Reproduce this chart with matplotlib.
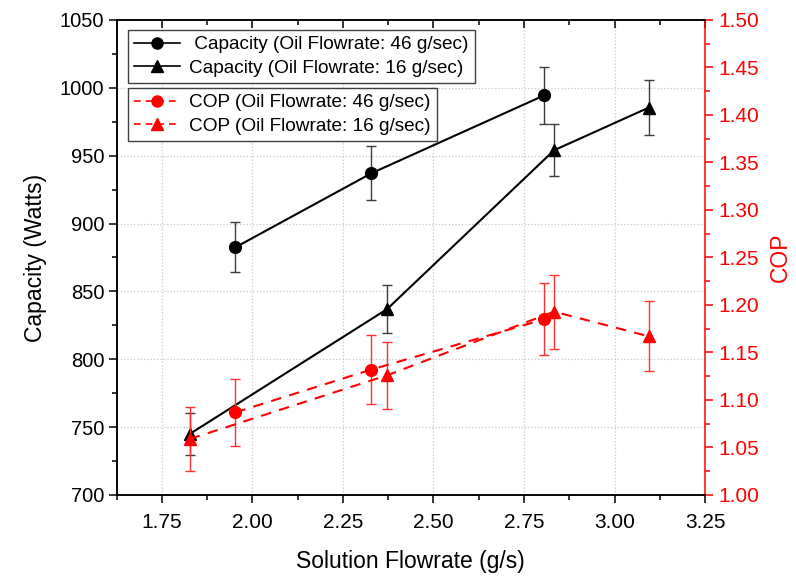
import numpy as np
import matplotlib
matplotlib.use("Agg")
import matplotlib.pyplot as plt
from matplotlib.ticker import MultipleLocator, FormatStrFormatter
from matplotlib.lines import Line2D

plt.rcParams["font.family"] = ["Liberation Sans", "DejaVu Sans"]

# Capacity data (left axis)
cap46_x   = [1.953, 2.328, 2.806]
cap46_y   = [882.5, 937.0, 994.5]
cap46_err = [18.5, 20.0, 21.0]

cap16_x   = [1.827, 2.372, 2.833, 3.095]
cap16_y   = [745.0, 837.0, 954.0, 985.5]
cap16_err = [15.5, 17.5, 19.0, 20.5]

# COP data (right axis)
cop46_x   = [1.953, 2.328, 2.806]
cop46_y   = [1.087, 1.132, 1.185]
cop46_err = [0.035, 0.0365, 0.038]

cop16_x   = [1.827, 2.372, 2.833, 3.095]
cop16_y   = [1.059, 1.126, 1.193, 1.167]
cop16_err = [0.034, 0.0355, 0.039, 0.037]

labels = [" Capacity (Oil Flowrate: 46 g/sec)",
          "Capacity (Oil Flowrate: 16 g/sec)",
          "COP (Oil Flowrate: 46 g/sec)",
          "COP (Oil Flowrate: 16 g/sec)"]

RED = "#ff0000"

fig, ax = plt.subplots(figsize=(7.96, 5.78), dpi=100)
fig.subplots_adjust(left=0.1466, right=0.8857, bottom=0.1436, top=0.9654)
ax2 = ax.twinx()

# grid (left major ticks / x major ticks)
ax.grid(True, color="#c8c8c8", linestyle=":", linewidth=0.9)
ax.set_axisbelow(True)

# capacity
ax.errorbar(cap46_x, cap46_y, yerr=cap46_err, fmt="none", ecolor="#3c3c3c",
            elinewidth=1.0, capsize=3.5, capthick=1.0)
ax.errorbar(cap16_x, cap16_y, yerr=cap16_err, fmt="none", ecolor="#3c3c3c",
            elinewidth=1.0, capsize=3.5, capthick=1.0)
ax.plot(cap46_x, cap46_y, color="black", lw=1.5, marker="o", ms=8.5)
ax.plot(cap16_x, cap16_y, color="black", lw=1.5, marker="^", ms=8.5)

# COP
ax2.errorbar(cop46_x, cop46_y, yerr=cop46_err, fmt="none", ecolor="#ff3030",
             elinewidth=1.0, capsize=3.5, capthick=1.0)
ax2.errorbar(cop16_x, cop16_y, yerr=cop16_err, fmt="none", ecolor="#ff3030",
             elinewidth=1.0, capsize=3.5, capthick=1.0)
ax2.plot(cop46_x, cop46_y, color=RED, lw=1.5, ls=(0, (5, 4)), marker="o", ms=8.5)
ax2.plot(cop16_x, cop16_y, color=RED, lw=1.5, ls=(0, (5, 4)), marker="^", ms=8.5)

# axes limits & ticks
ax.set_xlim(1.625, 3.25)
ax.set_ylim(700, 1050)
ax2.set_ylim(1.00, 1.50)
ax.xaxis.set_major_locator(MultipleLocator(0.25))
ax.xaxis.set_minor_locator(MultipleLocator(0.125))
ax.xaxis.set_major_formatter(FormatStrFormatter("%.2f"))
ax.yaxis.set_major_locator(MultipleLocator(50))
ax.yaxis.set_minor_locator(MultipleLocator(25))
ax2.yaxis.set_major_locator(MultipleLocator(0.05))
ax2.yaxis.set_minor_locator(MultipleLocator(0.025))
ax2.yaxis.set_major_formatter(FormatStrFormatter("%.2f"))

ax.tick_params(axis="x", which="both", direction="out", top=True, labelsize=15, width=1.1, pad=7)
ax.tick_params(axis="x", which="major", length=6)
ax.tick_params(axis="x", which="minor", length=3.5)
ax.tick_params(axis="y", which="major", direction="out", length=6, width=1.1,
               labelsize=14.5, pad=3)
ax.tick_params(axis="y", which="minor", direction="out", length=3.5, width=1.1)
ax2.tick_params(axis="y", which="major", direction="out", length=6, width=1.1,
                labelsize=15, colors=RED)
ax2.tick_params(axis="y", which="minor", direction="out", length=3.5, width=1.1, colors=RED)
for t in ax.xaxis.get_major_ticks() + ax.xaxis.get_minor_ticks():
    t.tick2line.set_marker(3)  # top ticks pointing into the plot

for s in ["left", "bottom", "top"]:
    ax.spines[s].set_linewidth(1.1)
    ax2.spines[s].set_linewidth(1.1)
ax2.spines["right"].set_color(RED)
ax2.spines["right"].set_linewidth(1.1)
ax.spines["right"].set_visible(False)

ax.set_xlabel("Solution Flowrate (g/s)", fontsize=16.5, labelpad=13)
ax.set_ylabel("Capacity (Watts)", fontsize=16.5, labelpad=9)
ax2.set_ylabel("COP", fontsize=16.5, color=RED, labelpad=7)

# legends
h_cap = [Line2D([], [], color="black", lw=1.2, marker="o", ms=8),
         Line2D([], [], color="black", lw=1.2, marker="^", ms=8)]
h_cop = [Line2D([], [], color=RED, lw=1.2, ls=(0, (4, 3)), marker="o", ms=8),
         Line2D([], [], color=RED, lw=1.2, ls=(0, (4, 3)), marker="^", ms=8)]

leg_kw = dict(fontsize=13.7, fancybox=False, framealpha=1, edgecolor="#404040",
              handlelength=2.4, handletextpad=0.5, borderpad=0.32,
              labelspacing=0.32, borderaxespad=0)
leg1 = ax2.legend(h_cap, labels[:2], loc="upper left",
                  bbox_to_anchor=(0.019, 0.979), **leg_kw)
leg1.get_frame().set_linewidth(1.0)
ax2.add_artist(leg1)
leg2 = ax2.legend(h_cop, labels[2:], loc="upper left",
                  bbox_to_anchor=(0.019, 0.857), **leg_kw)
leg2.get_frame().set_linewidth(1.0)

fig.savefig("out.png", dpi=100)
